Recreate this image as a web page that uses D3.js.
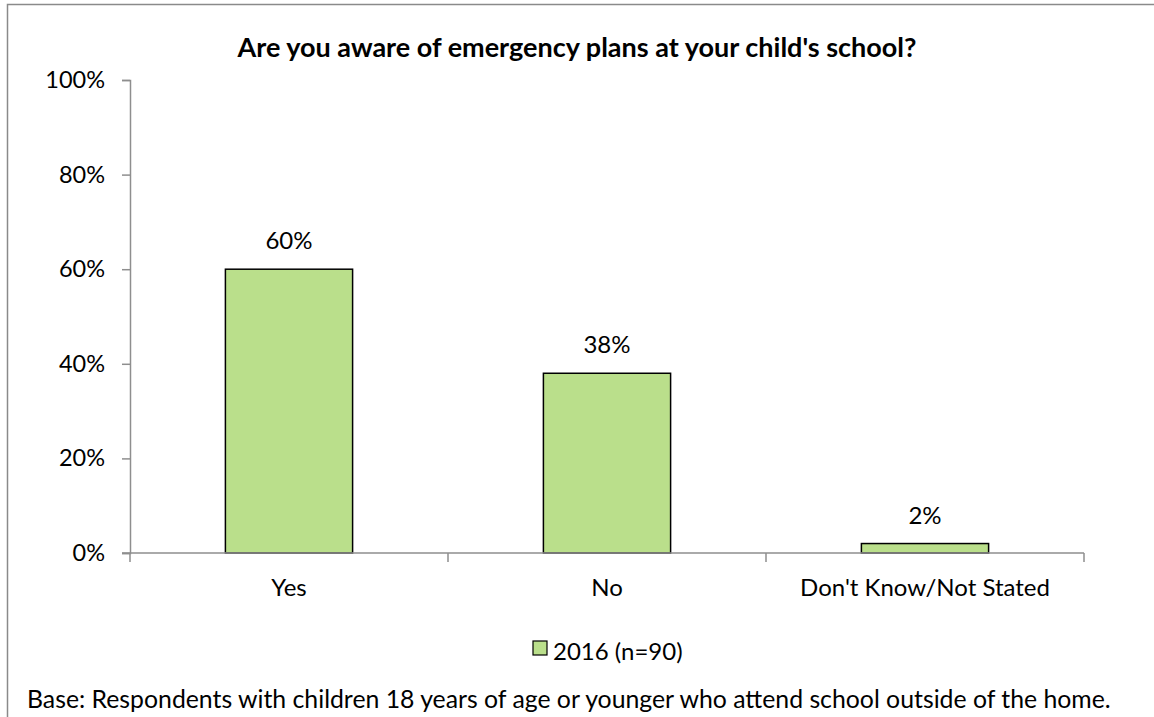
<!DOCTYPE html>
<html><head><meta charset="utf-8">
<script src="https://cdn.jsdelivr.net/npm/d3@7"></script>
<style>
html,body{margin:0;padding:0;background:#fff;}
svg{display:block;font-family:Lato,"Open Sans",sans-serif;}
</style></head>
<body>
<svg id="c" width="1154" height="717"></svg>
<script>
const categories = ["Yes", "No", "Don't Know/Not Stated"];
const values = [60, 38, 2];
const yTicks = [0, 20, 40, 60, 80, 100];
const seriesName = "2016 (n=90)";
const title = "Are you aware of emergency plans at your child's school?";
const footnote = "Base: Respondents with children 18 years of age or younger who attend school outside of the home.";

const svg = d3.select("#c");
const W = 1154, H = 717;
const m = {left:130, right:1084, top:80, bottom:553};
const axisColor = "#8e8e8e";
const barFill = "#badf8b";
const fs = 24;

// frame
svg.append("path").attr("d", `M7.5,${H} V4.5 H${W}`).attr("fill","none").attr("stroke","#8a8a8a").attr("stroke-width",1.5);

const x = d3.scaleBand().domain(categories).range([m.left, m.right]).padding(0);
const y = d3.scaleLinear().domain([0,100]).range([m.bottom, m.top]);

// title
svg.append("text").attr("x", 577).attr("y", 57)
  .attr("text-anchor","middle").attr("font-weight","bold").attr("font-size",27).text(title);

// y axis
const yAxis = d3.axisLeft(y).tickValues(yTicks).tickFormat(d => d + "%").tickSize(8).tickPadding(17);
const gy = svg.append("g").attr("transform",`translate(${m.left},0)`).call(yAxis);
gy.select(".domain").attr("stroke",axisColor).attr("stroke-width",1.5);
gy.selectAll(".tick line").attr("stroke",axisColor).attr("stroke-width",1.5);
gy.selectAll(".tick text").attr("font-size",23.5).attr("fill","#000").attr("font-family","Lato");

// bars
const bw = x.bandwidth()*0.4;
svg.append("g").selectAll("rect").data(values).join("rect")
  .attr("x",(d,i)=>x(categories[i]) + x.bandwidth()/2 - bw/2)
  .attr("y",d=>y(d))
  .attr("width",bw)
  .attr("height",d=>y(0)-y(d))
  .attr("fill",barFill).attr("stroke","#000").attr("stroke-width",1.5);

// x axis
const xAxis = d3.axisBottom(x).tickSize(0).tickPadding(0).tickFormat(()=> "");
const gx = svg.append("g").attr("transform",`translate(0,${m.bottom})`).call(xAxis);
gx.select(".domain").remove();
gx.append("line").attr("x1",m.left-8).attr("x2",m.right).attr("y1",0).attr("y2",0).attr("stroke",axisColor).attr("stroke-width",1.5);
const bounds = categories.map(c=>x(c)).concat([m.right]);
gx.selectAll("line.bt").data(bounds).join("line").attr("class","bt")
  .attr("x1",d=>d).attr("x2",d=>d).attr("y1",0).attr("y2",9)
  .attr("stroke",axisColor).attr("stroke-width",1.5);
// category labels
svg.append("g").selectAll("text").data(categories).join("text")
  .attr("x",d=>x(d)+x.bandwidth()/2).attr("y",596)
  .attr("text-anchor","middle").attr("font-size",fs).text(d=>d);

// data labels
svg.append("g").selectAll("text").data(values).join("text")
  .attr("x",(d,i)=>x(categories[i])+x.bandwidth()/2).attr("y",d=>y(d)-20)
  .attr("text-anchor","middle").attr("font-size",fs).text(d=>d+"%");

// legend
const lg = svg.append("g");
lg.append("rect").attr("x",533).attr("y",641).attr("width",14).attr("height",14)
  .attr("fill",barFill).attr("stroke","#000").attr("stroke-width",1.2);
lg.append("text").attr("x",553).attr("y",660).attr("font-size",fs).text(seriesName);

// footnote
svg.append("text").attr("x",27).attr("y",708).attr("font-size",24.8).text(footnote);
</script>
</body></html>
